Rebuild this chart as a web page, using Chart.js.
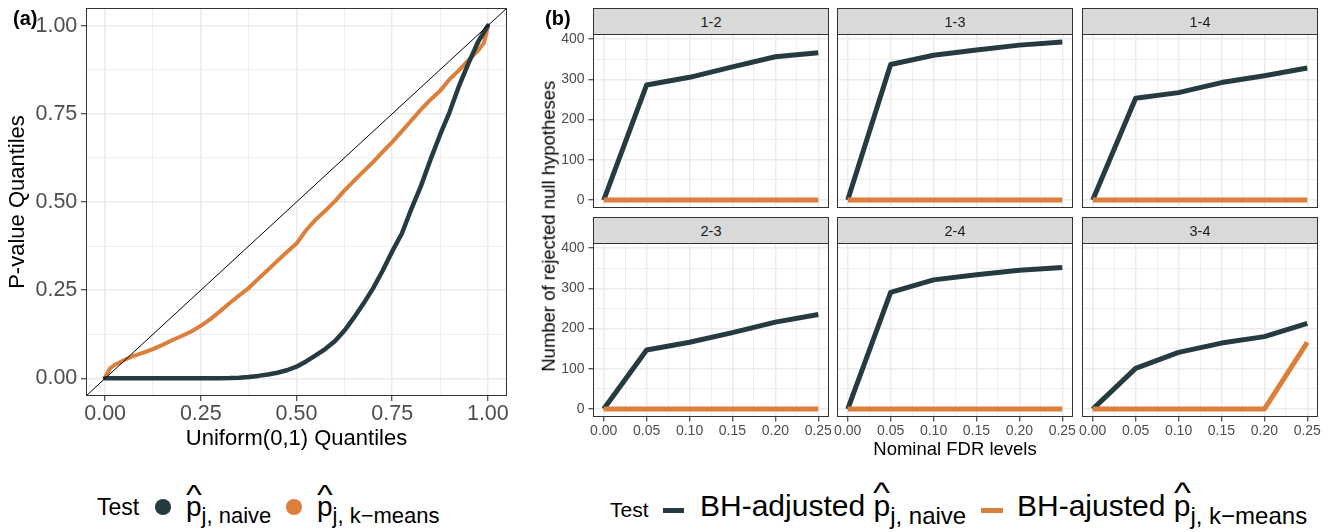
<!DOCTYPE html>
<html><head><meta charset="utf-8">
<script src="https://cdn.jsdelivr.net/npm/chart.js@4.4.1/dist/chart.umd.min.js"></script>
<style>
body{margin:0;background:#fff;width:1330px;height:532px;overflow:hidden;position:relative;font-family:"Liberation Sans",Arial,Helvetica,sans-serif;}
canvas{position:absolute;z-index:1}
.abs{position:absolute;white-space:nowrap;z-index:3}
.strip{position:absolute;box-sizing:border-box;background:#D9D9D9;border:1px solid #333;height:27px;width:236px;font-size:14.5px;color:#1a1a1a;text-align:center;line-height:25px;padding-top:1px;z-index:2}
.hp{position:relative;display:inline-block}
.hat{position:absolute;left:0;width:100%;text-align:center;transform:scaleX(1.2)}
.sb{position:relative}
</style>
</head><body>
<canvas id="qq" width="530" height="452" style="left:0;top:0"></canvas>

<div class="abs" style="left:13px;top:8px;font-size:20px;line-height:20px;font-weight:bold">(a)</div>
<div class="abs" style="left:545px;top:8px;font-size:20px;line-height:20px;font-weight:bold">(b)</div>

<div class="abs" id="ytitleB" style="left:348.6px;top:216.75px;width:400px;height:18.5px;font-size:18.5px;line-height:18.5px;text-align:center;transform:rotate(-90deg)">Number of rejected null hypotheses</div>

<!-- legend (a) -->
<div class="abs" style="left:97px;top:495.5px;font-size:23px;line-height:23px">Test</div>
<div class="abs" style="left:154.7px;top:498.7px;width:16.6px;height:16.6px;border-radius:50%;background:#263B41"></div>
<div class="abs" style="left:186px;top:493.3px;font-size:28px;line-height:28px"><span class="hp">p<span class="hat" style="top:-12.8px">^</span></span><span class="sb" style="font-size:22px;top:7px">j, naive</span></div>
<div class="abs" style="left:285.7px;top:498.7px;width:16.6px;height:16.6px;border-radius:50%;background:#DB7F3A"></div>
<div class="abs" style="left:317px;top:493.3px;font-size:28px;line-height:28px"><span class="hp">p<span class="hat" style="top:-12.8px">^</span></span><span class="sb" style="font-size:22px;top:7px">j, k−means</span></div>

<!-- legend (b) -->
<div class="abs" style="left:610px;top:498.9px;font-size:21px;line-height:21px">Test</div>
<div class="abs" style="left:663px;top:507.5px;width:21px;height:5px;background:#263B41"></div>
<div class="abs" style="left:700px;top:491.3px;font-size:30px;line-height:30px">BH-adjusted <span class="hp">p<span class="hat" style="top:-13.5px">^</span></span><span class="sb" style="font-size:24px;top:8px">j, naive</span></div>
<div class="abs" style="left:981px;top:507.5px;width:22px;height:5px;background:#DB7F3A"></div>
<div class="abs" style="left:1017px;top:491.3px;font-size:30px;line-height:30px">BH-ajusted <span class="hp">p<span class="hat" style="top:-13.5px">^</span></span><span class="sb" style="font-size:24px;top:8px">j, k−means</span></div>

<div id="facets"></div>

<script>
// ---------------- data: panel (a) QQ plot ----------------
const qqQuantiles = [0, 0.0125, 0.025, 0.05, 0.075, 0.1, 0.125, 0.15, 0.175, 0.2, 0.225, 0.25, 0.275, 0.3, 0.325, 0.35, 0.375, 0.4, 0.425, 0.45, 0.475, 0.5, 0.525, 0.55, 0.575, 0.6, 0.625, 0.65, 0.675, 0.7, 0.725, 0.75, 0.775, 0.8, 0.825, 0.85, 0.875, 0.9, 0.925, 0.95, 0.975, 0.99, 1.0];
const qqNaive = [0, 0, 0, 0, 0, 0, 0, 0, 0, 0, 0, 0, 0, 0.0003, 0.0008, 0.002, 0.004, 0.007, 0.011, 0.016, 0.023, 0.033, 0.048, 0.065, 0.083, 0.105, 0.135, 0.172, 0.212, 0.255, 0.305, 0.36, 0.41, 0.48, 0.545, 0.62, 0.69, 0.755, 0.83, 0.895, 0.955, 0.982, 1.0];
const qqKmeans = [0.003, 0.028, 0.038, 0.052, 0.064, 0.073, 0.083, 0.095, 0.108, 0.12, 0.133, 0.149, 0.168, 0.19, 0.213, 0.235, 0.256, 0.282, 0.307, 0.333, 0.358, 0.382, 0.42, 0.45, 0.475, 0.502, 0.532, 0.56, 0.587, 0.613, 0.642, 0.67, 0.7, 0.731, 0.762, 0.79, 0.815, 0.848, 0.874, 0.903, 0.93, 0.952, 0.997];
const refLineX = [-0.05, 1.05];
const refLineY = [-0.05, 1.05];
const qqMajorTicks = [0, 0.25, 0.5, 0.75, 1];
const qqTickLabels = ['0.00', '0.25', '0.50', '0.75', '1.00'];
const qqMinorTicks = [0.125, 0.375, 0.625, 0.875];

// ---------------- data: panel (b) facets ----------------
const pairs = ['1-2', '1-3', '1-4', '2-3', '2-4', '3-4'];
const fdrLevels = [0, 0.05, 0.10, 0.15, 0.20, 0.25];
const fdrTickLabels = ['0.00', '0.05', '0.10', '0.15', '0.20', '0.25'];
const fdrMinorTicks = [0.025, 0.075, 0.125, 0.175, 0.225];
const rejMajorTicks = [0, 100, 200, 300, 400];
const rejTickLabels = ['0', '100', '200', '300', '400'];
const rejMinorTicks = [50, 150, 250, 350];
const naive_1_2 = [0, 286, 305, 331, 356, 366];
const naive_1_3 = [0, 337, 360, 373, 385, 393];
const naive_1_4 = [0, 253, 267, 292, 309, 328];
const naive_2_3 = [0, 147, 166, 190, 216, 235];
const naive_2_4 = [0, 290, 321, 334, 345, 352];
const naive_3_4 = [0, 101, 141, 164, 180, 213];
const kmeans_1_2 = [0, 0, 0, 0, 0, 0];
const kmeans_1_3 = [0, 0, 0, 0, 0, 0];
const kmeans_1_4 = [0, 0, 0, 0, 0, 0];
const kmeans_2_3 = [0, 0, 0, 0, 0, 0];
const kmeans_2_4 = [0, 0, 0, 0, 0, 0];
const kmeans_3_4 = [0, 0, 0, 0, 0, 166];

// ---------------- styling ----------------
const FONT = '"Liberation Sans", Arial, Helvetica, sans-serif';
const DARK = '#263B41';
const ORANGE = '#DB7F3A';
const GRID = '#EBEBEB';
Chart.defaults.font.family = FONT;

const near = (a, b) => Math.abs(a - b) < 1e-9;
function gridOpts(majors, showTicks, tl) {
  const isMajor = v => majors.some(m => near(m, v));
  return {
    color: GRID,
    lineWidth: ctx => (ctx.tick && isMajor(ctx.tick.value)) ? 1.5 : 0.8,
    drawTicks: showTicks,
    tickLength: tl,
    tickWidth: 1.1,
    tickColor: ctx => (ctx.tick && isMajor(ctx.tick.value)) ? '#333333' : 'rgba(0,0,0,0)'
  };
}
function tickList(majors, minors) {
  return majors.concat(minors).sort((a, b) => a - b);
}
function labelFor(majors, labels) {
  return v => { const i = majors.findIndex(m => near(m, v)); return i >= 0 ? labels[i] : ''; };
}
const panelBorder = {
  id: 'panelBorder',
  afterDatasetsDraw(chart) {
    const { ctx, chartArea: a } = chart;
    ctx.save();
    ctx.strokeStyle = '#333333';
    ctx.lineWidth = 1;
    ctx.strokeRect(a.left + 0.5, a.top + 0.5, a.right - a.left - 1, a.bottom - a.top - 1);
    ctx.restore();
  }
};

// ---------------- panel (a) ----------------
const qqTicks = tickList(qqMajorTicks, qqMinorTicks);
new Chart(document.getElementById('qq'), {
  type: 'line',
  data: {
    datasets: [
      { data: refLineX.map((x, i) => ({ x, y: refLineY[i] })), borderColor: '#000000', borderWidth: 1, pointRadius: 0 },
      { data: qqQuantiles.map((x, i) => ({ x, y: qqNaive[i] })), borderColor: DARK, borderWidth: 4.5, pointRadius: 0, borderJoinStyle: 'round', borderCapStyle: 'round' },
      { data: qqQuantiles.map((x, i) => ({ x, y: qqKmeans[i] })), borderColor: ORANGE, borderWidth: 4, pointRadius: 0, borderJoinStyle: 'round', borderCapStyle: 'round' }
    ]
  },
  options: {
    responsive: false, animation: false, devicePixelRatio: 1,
    layout: { padding: { left: 0, top: 8, right: 23, bottom: 0 } },
    plugins: { legend: { display: false }, tooltip: { enabled: false } },
    scales: {
      x: {
        type: 'linear', min: -0.05, max: 1.05,
        afterBuildTicks: s => { s.ticks = qqTicks.map(v => ({ value: v })); },
        afterFit: s => { s.height = 56; s.paddingLeft = 0; s.paddingRight = 0; },
        ticks: { autoSkip: false, maxRotation: 0, minRotation: 0, padding: 0, color: '#4D4D4D', font: { size: 21.5 }, callback: labelFor(qqMajorTicks, qqTickLabels) },
        grid: gridOpts(qqMajorTicks, true, 5),
        border: { display: false },
        title: { display: true, text: 'Uniform(0,1) Quantiles', color: '#000000', font: { size: 22 }, padding: { top: 0, bottom: 0 } }
      },
      y: {
        type: 'linear', min: -0.05, max: 1.05,
        afterBuildTicks: s => { s.ticks = qqTicks.map(v => ({ value: v })); },
        afterFit: s => { s.width = 86; s.paddingTop = 0; s.paddingBottom = 0; },
        ticks: { autoSkip: false, padding: 3.7, color: '#4D4D4D', font: { size: 21.5 }, callback: labelFor(qqMajorTicks, qqTickLabels) },
        grid: gridOpts(qqMajorTicks, true, 5),
        border: { display: false },
        title: { display: true, text: 'P-value Quantiles', color: '#000000', font: { size: 22 }, padding: { top: 5, bottom: 0 } }
      }
    }
  },
  plugins: [panelBorder]
});

// ---------------- panel (b) facets ----------------
const naiveSeries = [naive_1_2, naive_1_3, naive_1_4, naive_2_3, naive_2_4, naive_3_4];
const kmeansSeries = [kmeans_1_2, kmeans_1_3, kmeans_1_4, kmeans_2_3, kmeans_2_4, kmeans_3_4];
const colLefts = [593, 837, 1082];
const stripTops = [8, 217];
const PW = 236, PH = 174, SH = 26;
const fdrTicks = tickList(fdrLevels, fdrMinorTicks);
const rejTicks = tickList(rejMajorTicks, rejMinorTicks);
const host = document.getElementById('facets');

pairs.forEach((name, k) => {
  const row = Math.floor(k / 3), col = k % 3;
  const panelLeft = colLefts[col];
  const panelTop = stripTops[row] + SH;
  const strip = document.createElement('div');
  strip.className = 'strip';
  strip.style.left = panelLeft + 'px';
  strip.style.top = stripTops[row] + 'px';
  strip.textContent = name;
  host.appendChild(strip);

  const yW = col === 0 ? 60 : 0;
  const padL = col === 0 ? 0 : 20;
  const padR = 20, padT = 12;
  const xH = row === 1 ? 44 : 0;
  const padB = row === 1 ? 0 : 2;
  const cv = document.createElement('canvas');
  cv.width = padL + yW + PW + padR;
  cv.height = padT + PH + xH + padB;
  cv.style.left = (panelLeft - padL - yW) + 'px';
  cv.style.top = (panelTop - padT) + 'px';
  host.appendChild(cv);

  new Chart(cv, {
    type: 'line',
    data: {
      datasets: [
        { data: fdrLevels.map((x, i) => ({ x, y: kmeansSeries[k][i] })), borderColor: ORANGE, borderWidth: 5, pointRadius: 0, borderJoinStyle: 'round', borderCapStyle: 'butt' },
        { data: fdrLevels.map((x, i) => ({ x, y: naiveSeries[k][i] })), borderColor: DARK, borderWidth: 5, pointRadius: 0, borderJoinStyle: 'round', borderCapStyle: 'butt' }
      ]
    },
    options: {
      responsive: false, animation: false, devicePixelRatio: 1,
      layout: { padding: { left: padL, top: padT, right: padR, bottom: padB } },
      plugins: { legend: { display: false }, tooltip: { enabled: false } },
      scales: {
        x: {
          type: 'linear', min: -0.0125, max: 0.2625,
          afterBuildTicks: s => { s.ticks = fdrTicks.map(v => ({ value: v })); },
          afterFit: s => { s.height = xH; s.paddingLeft = 0; s.paddingRight = 0; },
          ticks: { display: row === 1, autoSkip: false, maxRotation: 0, minRotation: 0, padding: 1.4, color: '#4D4D4D', font: { size: 14 }, callback: labelFor(fdrLevels, fdrTickLabels) },
          grid: gridOpts(fdrLevels, row === 1, 4.5),
          border: { display: false },
          title: { display: row === 1 && col === 1, text: 'Nominal FDR levels', color: '#000000', font: { size: 18.5 }, padding: { top: 0, bottom: 0 } }
        },
        y: {
          type: 'linear', min: -19.65, max: 412.65,
          afterBuildTicks: s => { s.ticks = rejTicks.map(v => ({ value: v })); },
          afterFit: s => { s.width = yW; s.paddingTop = 0; s.paddingBottom = 0; },
          ticks: { display: col === 0, autoSkip: false, padding: 4, color: '#4D4D4D', font: { size: 14 }, callback: labelFor(rejMajorTicks, rejTickLabels) },
          grid: gridOpts(rejMajorTicks, col === 0, 4.5),
          border: { display: false }
        }
      }
    },
    plugins: [panelBorder]
  });
});
</script>
</body></html>
